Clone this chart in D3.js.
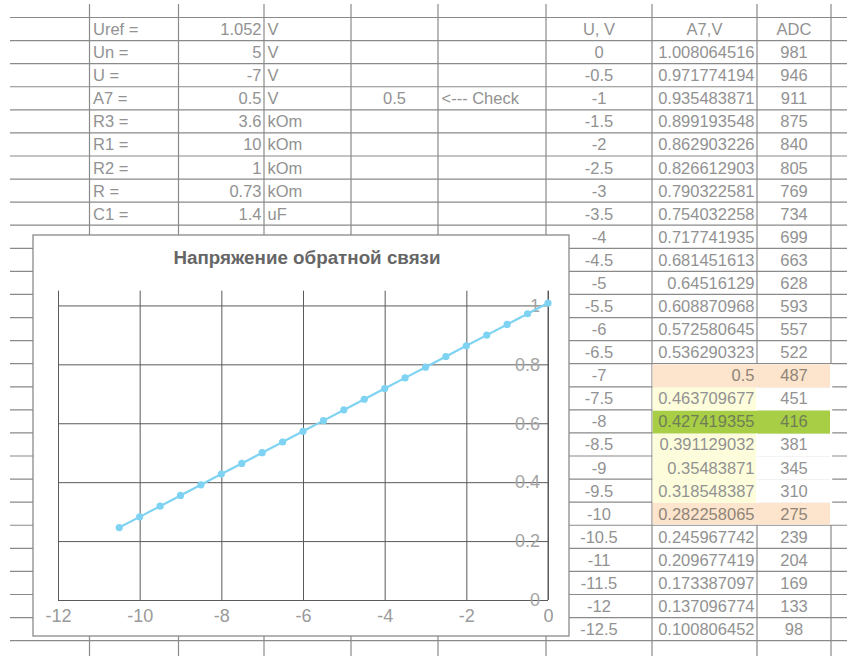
<!DOCTYPE html>
<html>
<head>
<meta charset="utf-8">
<script src="https://cdn.jsdelivr.net/npm/d3@7"></script>
<style>
  html, body { margin: 0; padding: 0; background: #fff; }
  svg { display: block; font-family: "Liberation Sans", Arial, sans-serif; }
</style>
</head>
<body>
<svg id="sheet" width="847" height="656"></svg>
<script>
// ---- Parameters block ----
const paramLabels = ["Uref =", "Un =", "U =", "A7 =", "R3 =", "R1 =", "R2 =", "R =", "C1 ="];
const paramValues = ["1.052", "5", "-7", "0.5", "3.6", "10", "1", "0.73", "1.4"];
const paramUnits  = ["V", "V", "V", "V", "kOm", "kOm", "kOm", "kOm", "uF"];
const checkValue = "0.5";
const checkNote = "<--- Check";

// ---- Lookup table: U, A7 and ADC code ----
const tableHeaders = ["U, V", "A7,V", "ADC"];
const uValues = [0, -0.5, -1, -1.5, -2, -2.5, -3, -3.5, -4, -4.5, -5, -5.5, -6,
                 -6.5, -7, -7.5, -8, -8.5, -9, -9.5, -10, -10.5, -11, -11.5, -12, -12.5];
const a7Values = [1.008064516, 0.971774194, 0.935483871, 0.899193548, 0.862903226,
                  0.826612903, 0.790322581, 0.754032258, 0.717741935, 0.681451613,
                  0.64516129, 0.608870968, 0.572580645, 0.536290323, 0.5,
                  0.463709677, 0.427419355, 0.391129032, 0.35483871, 0.318548387,
                  0.282258065, 0.245967742, 0.209677419, 0.173387097, 0.137096774,
                  0.100806452];
const adcValues = [981, 946, 911, 875, 840, 805, 769, 734, 699, 663, 628, 593, 557,
                   522, 487, 451, 416, 381, 345, 310, 275, 239, 204, 169, 133, 98];

// Highlighted cells of the lookup table (by U value)
const peachRows  = [-7, -10];
const greenRows  = [-8];
const yellowRows = [-7.5, -8.5, -9, -9.5];

// ---- Chart ----
const chartTitle = "Напряжение обратной связи";
const chartMinU = -10.5;
const xTicks = [-12, -10, -8, -6, -4, -2, 0];
const yTicks = [0, 0.2, 0.4, 0.6, 0.8, 1];
const xDomain = [-12, 0];
const yDomain = [0, 1.05];

// ---- Layout ----
const svg = d3.select("#sheet");
const W = 847, H = 656;
const colEdges = [89.5, 178.5, 264, 351, 438, 546, 652, 757, 831];
const rowY = d3.scaleLinear().domain([0, 1]).range([17.5, 40.58]);   // row index -> top edge
const gridColor = "#8a8a8a";
const textColor = "#929292";
const fontSize = 16.5;

// Sheet gridlines
const gGrid = svg.append("g");
const nRows = d3.range(0, 30).filter(k => rowY(k) < H);
gGrid.selectAll("line.h").data(nRows).join("line")
  .attr("x1", 10).attr("x2", W)
  .attr("y1", k => rowY(k)).attr("y2", k => rowY(k))
  .attr("stroke", gridColor).attr("stroke-width", 1.2);
gGrid.selectAll("line.v").data(colEdges).join("line")
  .attr("x1", d => d).attr("x2", d => d)
  .attr("y1", 4).attr("y2", H)
  .attr("stroke", gridColor).attr("stroke-width", 1.2);

// Cell fills (rows of the lookup table start at sheet row 1)
const rowOfU = u => uValues.indexOf(u) + 1;
const peach = "#fde5cd", green = "#a8ce46", yellow = "#fdfddc";
const gFill = svg.append("g");
function fillCell(u, c0, c1, color, interiorBottom) {
  const r = rowOfU(u);
  const y0 = rowY(r) + 0.7;
  const y1 = rowY(r + 1) + (interiorBottom ? 0.7 : -0.7);
  gFill.append("rect")
    .attr("x", colEdges[c0] + 0.7).attr("y", y0)
    .attr("width", colEdges[c1] - colEdges[c0] + (c1 === 8 ? 0.0 : -0.7))
    .attr("height", y1 - y0)
    .attr("fill", color);
}
// white backing that hides the interior gridlines of the highlighted block
fillCell(-7, 6, 8, "#ffffff", true);
yellowRows.forEach(u => fillCell(u, 6, 8, "#ffffff", true));
fillCell(-8, 6, 8, "#ffffff", true);
peachRows.forEach(u => fillCell(u, 6, 8, peach, u !== -10));
greenRows.forEach(u => fillCell(u, 6, 8, green, true));
yellowRows.forEach(u => fillCell(u, 6, 7, yellow, true));
// cover right border within the block
gFill.append("rect")
  .attr("x", colEdges[8] - 1).attr("y", rowY(rowOfU(-7)) + 0.7)
  .attr("width", 2.2).attr("height", rowY(rowOfU(-10) + 1) - rowY(rowOfU(-7)) - 1.4)
  .attr("fill", "#fff");
// re-tint the A7 | ADC separator with the cell colour of each row
[...peachRows, ...greenRows].forEach(u => {
  const r = rowOfU(u);
  gFill.append("rect").attr("x", colEdges[7] - 1).attr("y", rowY(r) + 0.7)
    .attr("width", 2.2).attr("height", rowY(r + 1) - rowY(r) - 1.4)
    .attr("fill", greenRows.includes(u) ? green : peach);
});
yellowRows.forEach(u => {
  const r = rowOfU(u);
  gFill.append("rect").attr("x", colEdges[7] - 1).attr("y", rowY(r) + 0.7)
    .attr("width", 2.2).attr("height", rowY(r + 1) - rowY(r))
    .attr("fill", "#fff");
});

// Text helpers
const gText = svg.append("g").attr("font-size", fontSize).attr("fill", textColor);
function cellText(row, c0, c1, txt, align, color) {
  const yb = (rowY(row) + rowY(row + 1)) / 2 + 6;
  let x, anchor;
  if (align === "left") { x = colEdges[c0] + 3.5; anchor = "start"; }
  else if (align === "right") { x = colEdges[c1] - 2.5; anchor = "end"; }
  else { x = (colEdges[c0] + colEdges[c1]) / 2; anchor = "middle"; }
  gText.append("text").attr("x", x).attr("y", yb)
    .attr("text-anchor", anchor).attr("fill", color || textColor).text(txt);
}

// Parameters block
paramLabels.forEach((lab, i) => {
  cellText(i, 0, 1, lab, "left");
  cellText(i, 1, 2, paramValues[i], "right");
  cellText(i, 2, 3, paramUnits[i], "left");
});
cellText(3, 3, 4, checkValue, "middle");
cellText(3, 4, 5, checkNote, "left");

// Lookup table
tableHeaders.forEach((h, i) => cellText(0, 5 + i, 6 + i, h, "middle"));
uValues.forEach((u, i) => {
  const r = i + 1;
  const hl = peachRows.includes(u) ? "#8f8478" : greenRows.includes(u) ? "#6e7d55" : null;
  cellText(r, 5, 6, String(u), "middle");
  cellText(r, 6, 7, String(a7Values[i]), "right", hl);
  cellText(r, 7, 8, String(adcValues[i]), "middle", hl);
});

// ---- Embedded chart ----
const box = { x: 33, y: 235, w: 536, h: 401 };
const gChart = svg.append("g");
gChart.append("rect")
  .attr("x", box.x).attr("y", box.y).attr("width", box.w).attr("height", box.h)
  .attr("fill", "#fff").attr("stroke", "#8a8a8a").attr("stroke-width", 1.3);

gChart.append("text")
  .attr("x", 307).attr("y", 264)
  .attr("text-anchor", "middle")
  .attr("font-size", 18.8).attr("font-weight", "bold")
  .attr("fill", "#666")
  .text(chartTitle);

const plot = { left: 58, right: 548, top: 290.7, bottom: 600 };
const x = d3.scaleLinear().domain(xDomain).range([plot.left, plot.right]);
const y = d3.scaleLinear().domain(yDomain).range([plot.bottom, plot.top]);

// vertical gridlines
gChart.append("g")
  .attr("transform", `translate(0,${plot.bottom})`)
  .call(d3.axisBottom(x).tickValues(xTicks).tickSize(-(plot.bottom - plot.top)).tickFormat(""))
  .call(g => g.select(".domain").remove())
  .call(g => g.selectAll(".tick line").attr("stroke", "#5a5a5a").attr("stroke-width", 1));

// horizontal gridlines
gChart.append("g")
  .attr("transform", `translate(${plot.right},0)`)
  .call(d3.axisLeft(y).tickValues(yTicks).tickSize(plot.right - plot.left).tickFormat(""))
  .call(g => g.select(".domain").remove())
  .call(g => g.selectAll(".tick line").attr("stroke", "#5a5a5a").attr("stroke-width", 1));

// value axis line at U = 0
gChart.append("line")
  .attr("x1", x(0)).attr("x2", x(0)).attr("y1", plot.top).attr("y2", plot.bottom)
  .attr("stroke", "#5a5a5a").attr("stroke-width", 1);

// x tick labels
gChart.append("g")
  .attr("transform", `translate(0,${plot.bottom})`)
  .call(d3.axisBottom(x).tickValues(xTicks).tickSize(0).tickPadding(9).tickFormat(d => String(d)))
  .call(g => g.select(".domain").remove())
  .call(g => g.selectAll("text").attr("font-size", 18).attr("fill", "#9a9a9a")
        .attr("font-family", "'Liberation Sans', Arial, sans-serif"));

// y tick labels
gChart.append("g")
  .attr("transform", `translate(${plot.right},0)`)
  .call(d3.axisLeft(y).tickValues(yTicks).tickSize(0).tickPadding(8).tickFormat(d => String(d)))
  .call(g => g.select(".domain").remove())
  .call(g => g.selectAll("text").attr("font-size", 18).attr("fill", "#a4a4a4")
        .attr("font-family", "'Liberation Sans', Arial, sans-serif"));

// series
const series = uValues.map((u, i) => ({ u, v: a7Values[i] })).filter(d => d.u >= chartMinU);
const seriesColor = "#7fd3f2";
gChart.append("path")
  .datum(series)
  .attr("fill", "none").attr("stroke", seriesColor).attr("stroke-width", 2.2)
  .attr("d", d3.line().x(d => x(d.u)).y(d => y(d.v)));
gChart.selectAll("circle.pt").data(series).join("circle")
  .attr("cx", d => x(d.u)).attr("cy", d => y(d.v)).attr("r", 3.6)
  .attr("fill", seriesColor);
</script>
</body>
</html>
